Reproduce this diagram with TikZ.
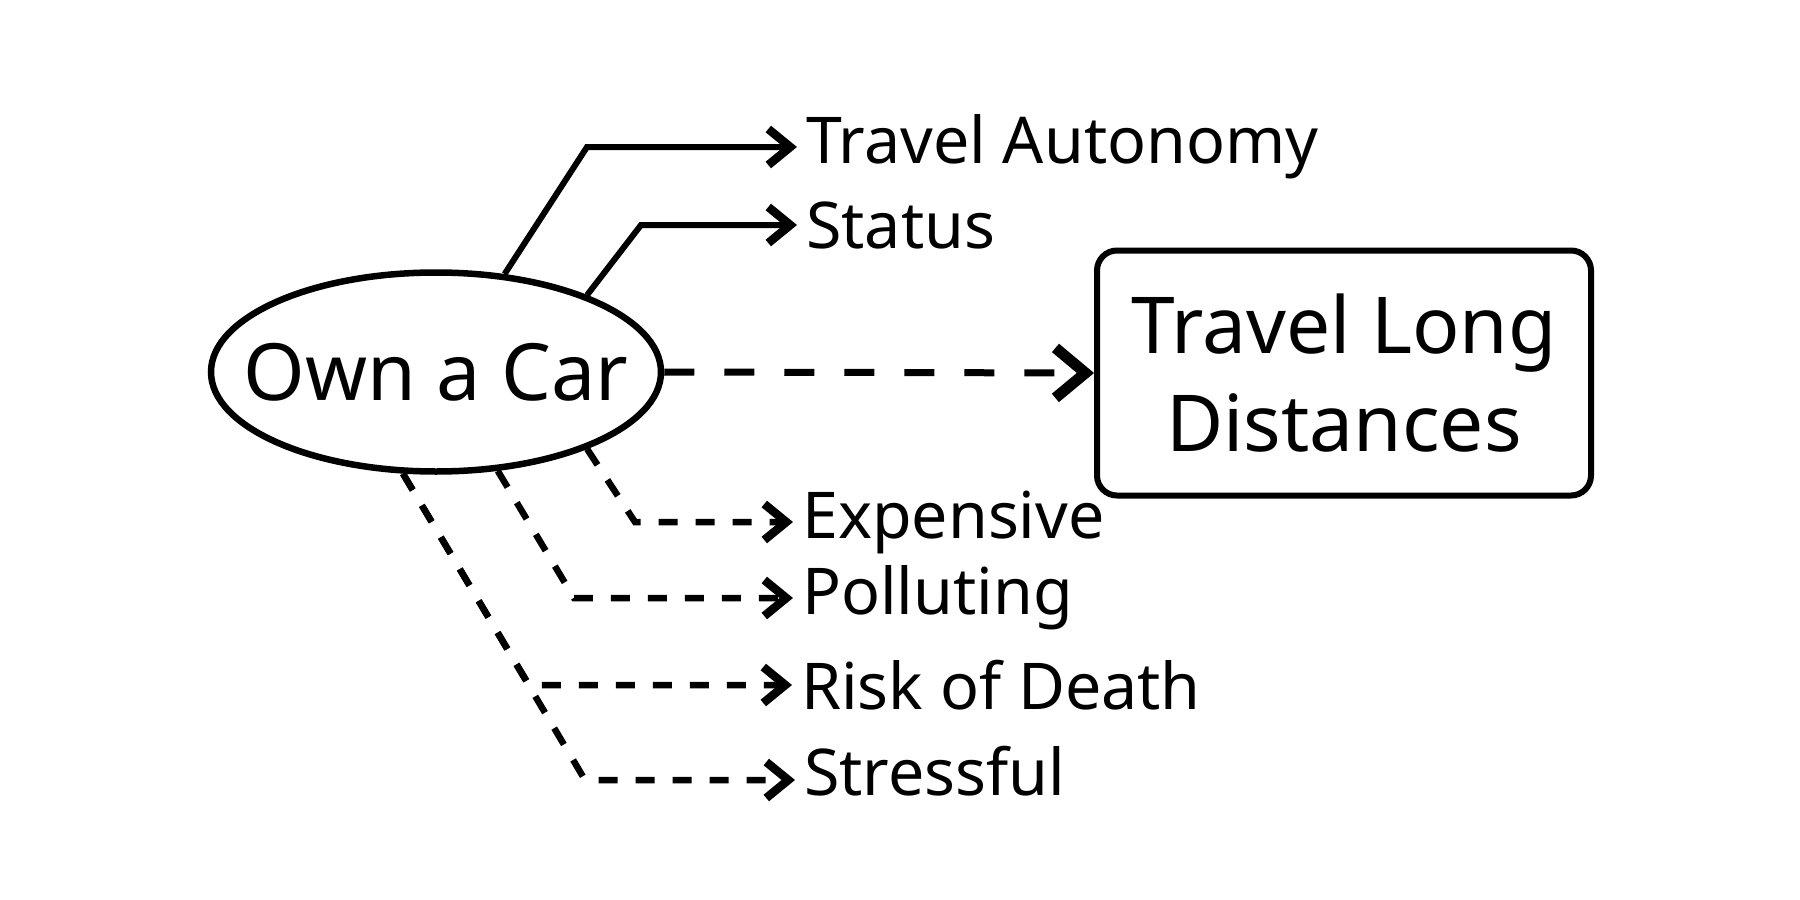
\documentclass[tikz,border=0pt]{standalone}
\usepackage{fontspec}
\setmainfont{Noto Sans}
\usetikzlibrary{arrows.meta,shapes.geometric}
\begin{document}
\begin{tikzpicture}[x=1pt,y=-1pt,
  lbl/.style={anchor=west,inner xsep=9pt,inner ysep=0pt,font=\fontsize{64.5}{77}\selectfont},
  smalltip/.style={-{Straight Barb[length=22pt,width=36pt,line width=8.5pt]}},
  solidarrow/.style={line width=6pt,smalltip},
  dasharrow/.style={line width=6.5pt,dash pattern=on 19pt off 18pt,smalltip},
  mainarrow/.style={line width=7pt,dash pattern=on 30pt off 30pt,-{Straight Barb[length=30pt,width=50pt,line width=11pt]}}]
\useasboundingbox (0,0) rectangle (1800,900);
\node[ellipse,draw,line width=6.5pt,minimum width=450pt,minimum height=199pt,inner sep=0pt] (car) at (436,372) {};
\node[font=\fontsize{79}{90}\selectfont,inner sep=0pt] (cartxt) at (car.center) {Own a Car};
\node[draw,rounded corners=20pt,line width=6pt,minimum width=494pt,minimum height=245pt,align=center,inner sep=0pt,font=\fontsize{78.5}{98}\selectfont] (tld) at (1344,373) {Travel Long\\Distances};
\node[lbl] (ta) at (797,147) {Travel Autonomy};
\node[lbl] (st) at (797,225) {Status};
\node[lbl] (ex) at (793,522) {Expensive};
\node[lbl] (po) at (793,598) {Polluting};
\node[lbl] (rd) at (792,685) {Risk of Death};
\node[lbl] (sf) at (795,771) {Stressful};
\coordinate (bta) at (587,147);
\coordinate (bst) at (641,225);
\coordinate (bex) at (635,522);
\coordinate (bpo) at (574,598);
\coordinate (brd) at (529,685);
\coordinate (bsf) at (585,780);
\draw[solidarrow] (car.55.7) -- (bta) -- (ta.west);
\draw[solidarrow] (car.27.2) -- (bst) -- (st.west);
\draw[mainarrow] (car.east) -- (tld.west);
\draw[dasharrow] (car.-27.5) -- (bex) -- (ex.west);
\draw[dasharrow] (car.-58) -- (bpo) -- (po.west);
\draw[dasharrow] (car.-108) -- (brd) -- (rd.west);
\draw[dasharrow] (car.-108) -- (bsf) -- (sf.west |- bsf);
\end{tikzpicture}
\end{document}
